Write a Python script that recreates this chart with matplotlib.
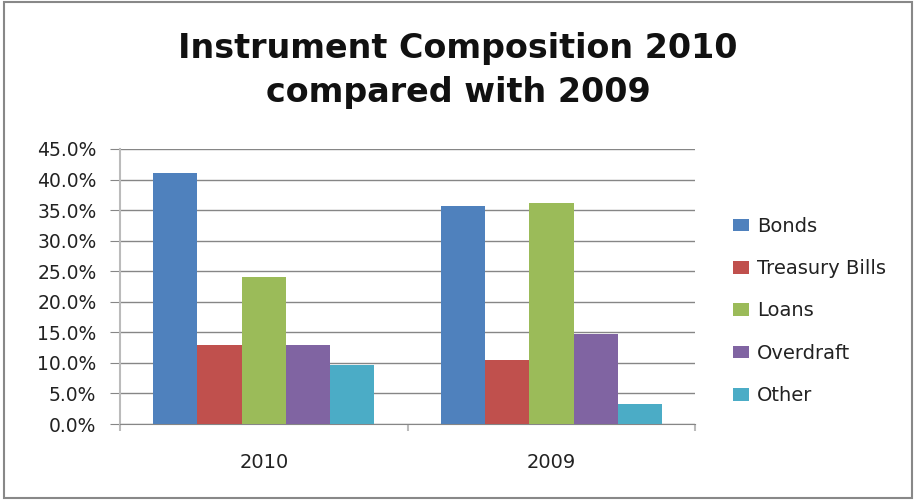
import matplotlib
matplotlib.use('Agg')
import matplotlib.pyplot as plt
from matplotlib.patches import Rectangle
from matplotlib.ticker import FuncFormatter, FixedLocator

years = ['2010', '2009']
series = ['Bonds', 'Treasury Bills', 'Loans', 'Overdraft', 'Other']
bonds = [41.1, 35.6]
treasury = [13.0, 10.5]
loans = [24.0, 36.2]
overdraft = [13.0, 14.8]
other = [9.7, 3.3]
colors = ['#4F81BD', '#C0504D', '#9BBB59', '#8064A2', '#4BACC6']

plt.rcParams['font.family'] = ['DejaVu Sans']

fig = plt.figure(figsize=(9.16, 5.0), dpi=100)
ax = fig.add_axes([0.131, 0.152, 0.628, 0.55])

# excel style: gap width 150%
w = 1 / 6.5
values = [bonds, treasury, loans, overdraft, other]
for i, (name, vals) in enumerate(zip(series, values)):
    xs = [j + (i - 2) * w for j in range(len(years))]
    ax.bar(xs, vals, width=w, color=colors[i], label=name, zorder=3)

ax.set_xlim(-0.5, 1.5)
ax.set_ylim(0, 45)
ax.set_yticks([0, 5, 10, 15, 20, 25, 30, 35, 40, 45])
ax.yaxis.set_major_formatter(FuncFormatter(lambda v, p: '%.1f%%' % v))
ax.grid(axis='y', color='#868686', lw=1, zorder=0)

ax.set_xticks([0, 1])
ax.set_xticklabels(years)
ax.xaxis.set_minor_locator(FixedLocator([-0.5, 0.5, 1.5]))
ax.tick_params(axis='x', which='major', length=0, pad=21, labelsize=14,
               labelcolor='#222222')
ax.tick_params(axis='x', which='minor', length=5, color='#bbbbbb', width=1.5)
ax.tick_params(axis='y', length=7, color='#868686', pad=10, labelsize=13.5,
               labelcolor='#222222')

for s in ['top', 'right']:
    ax.spines[s].set_visible(False)
ax.spines['left'].set_color('#bbbbbb')
ax.spines['left'].set_linewidth(1.5)
ax.spines['bottom'].set_color('#868686')

ax.legend(loc='center left', bbox_to_anchor=(1.052, 0.411), frameon=False,
          borderaxespad=0, fontsize=14, handlelength=0.82, handleheight=0.62,
          labelspacing=1.2, handletextpad=0.4, labelcolor='#222222')

fig.text(0.5, 0.884, 'Instrument Composition 2010', ha='center',
         va='baseline', fontsize=24, fontweight='bold', color='#111111')
fig.text(0.5, 0.796, 'compared with 2009', ha='center', va='baseline',
         fontsize=24, fontweight='bold', color='#111111')

# chart border
fig.patches.append(Rectangle((0.004, 0.004), 0.992, 0.992,
                             transform=fig.transFigure, fill=False,
                             edgecolor='#888888', lw=1.5))

fig.savefig('out.png', dpi=100)
